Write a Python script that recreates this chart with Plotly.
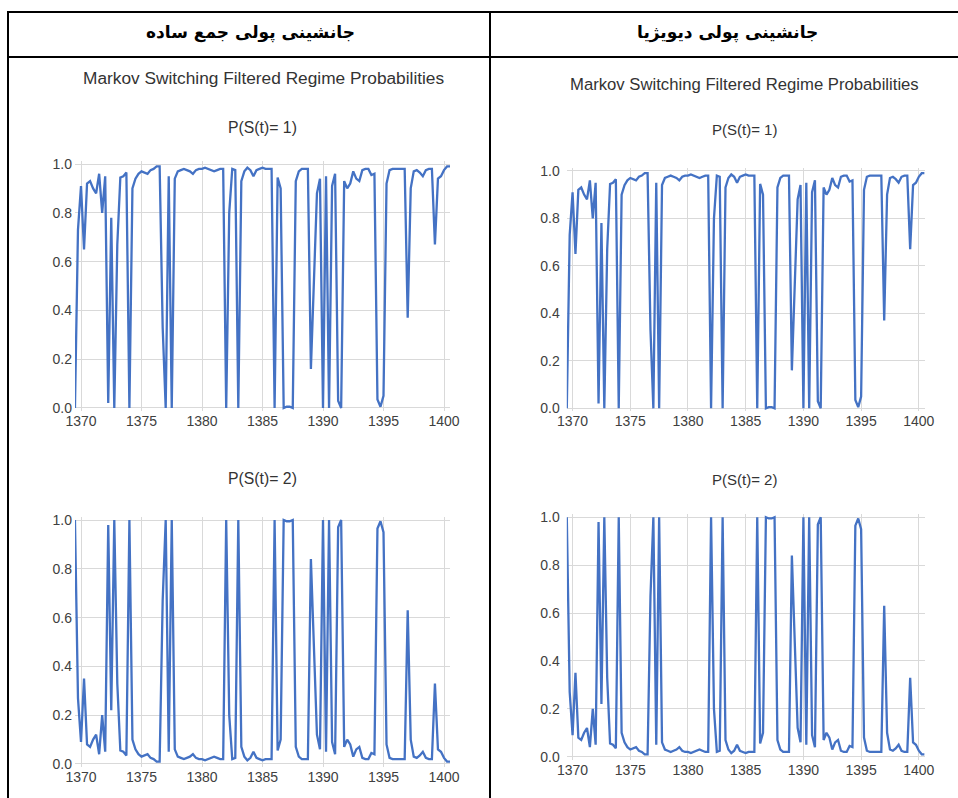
import plotly.graph_objects as go

W, H = 958, 798

# ---- data (quarterly filtered regime probabilities) ----
p1 = [0.00, 0.73, 0.91, 0.65, 0.92, 0.93, 0.90, 0.88, 0.96, 0.80,
      0.95, 0.02, 0.78, 0.00, 0.67, 0.945, 0.95, 0.965, 0.00, 0.90,
      0.94, 0.96, 0.97, 0.965, 0.96, 0.975, 0.98, 0.99, 0.99, 0.33,
      0.00, 0.95, 0.00, 0.94, 0.97, 0.975, 0.98, 0.975, 0.97, 0.96,
      0.975, 0.98, 0.98, 0.985, 0.98, 0.975, 0.97, 0.975, 0.98, 0.98,
      0.00, 0.80, 0.98, 0.975, 0.00, 0.93, 0.97, 0.985, 0.975, 0.95,
      0.975, 0.98, 0.985, 0.98, 0.98, 0.98, 0.00, 0.945, 0.90, 0.00,
      0.005, 0.005, 0.00, 0.93, 0.97, 0.98, 0.98, 0.98, 0.16, 0.55,
      0.88, 0.94, 0.00, 0.95, 0.00, 0.91, 0.96, 0.03, 0.00, 0.93,
      0.90, 0.92, 0.97, 0.94, 0.93, 0.975, 0.98, 0.98, 0.955, 0.96,
      0.035, 0.005, 0.05, 0.92, 0.975, 0.98, 0.98, 0.98, 0.98, 0.98,
      0.37, 0.90, 0.97, 0.975, 0.965, 0.95, 0.975, 0.98, 0.98, 0.67,
      0.94, 0.95, 0.975, 0.99, 0.99]

p2 = [1.00, 0.27, 0.09, 0.35, 0.08, 0.07, 0.10, 0.12, 0.04, 0.20,
      0.05, 0.98, 0.22, 1.00, 0.33, 0.055, 0.05, 0.035, 1.00, 0.10,
      0.06, 0.04, 0.03, 0.035, 0.04, 0.025, 0.02, 0.01, 0.01, 0.67,
      1.00, 0.05, 1.00, 0.06, 0.03, 0.025, 0.02, 0.025, 0.03, 0.04,
      0.025, 0.02, 0.02, 0.015, 0.02, 0.025, 0.03, 0.025, 0.02, 0.02,
      1.00, 0.20, 0.02, 0.025, 1.00, 0.07, 0.03, 0.015, 0.025, 0.05,
      0.025, 0.02, 0.015, 0.02, 0.02, 0.02, 1.00, 0.055, 0.10, 1.00,
      0.995, 0.995, 1.00, 0.07, 0.03, 0.02, 0.02, 0.02, 0.84, 0.45,
      0.12, 0.06, 1.00, 0.05, 1.00, 0.09, 0.04, 0.97, 1.00, 0.07,
      0.10, 0.08, 0.03, 0.06, 0.07, 0.025, 0.02, 0.02, 0.045, 0.04,
      0.965, 0.995, 0.95, 0.08, 0.025, 0.02, 0.02, 0.02, 0.02, 0.02,
      0.63, 0.10, 0.03, 0.025, 0.035, 0.05, 0.025, 0.02, 0.02, 0.33,
      0.06, 0.05, 0.025, 0.01, 0.01]

start_year = 1369.5
dates = [start_year + 0.25 * i for i in range(len(p1))]

x_ticks = [1370, 1375, 1380, 1385, 1390, 1395, 1400]
y_ticks = [0.0, 0.2, 0.4, 0.6, 0.8, 1.0]

headers = ["جانشینی پولی جمع ساده", "جانشینی پولی دیویژیا"]
chart_title = "Markov Switching Filtered Regime Probabilities"
panel_titles = ["P(S(t)= 1)", "P(S(t)= 2)"]

# ---- layout geometry (pixels) ----
LINE = "#4472C4"
GRID = "#d9d9d9"
TXT = "#404040"
X_RANGE = [1369.5, 1400.5]
Y_RANGE = [-0.012, 1.012]

# (series, x_left, x_right, y_top, y_bottom, font size, y-label standoff)
panels = [
    (p1, 74.95, 450.05, 161.1, 410.9, 14, 2),
    (p2, 74.95, 450.05, 517.1, 766.9, 14, 2),
    (p1, 566.8, 924.6, 168.0, 411.2, 14, 6),
    (p2, 566.8, 924.6, 514.4, 759.6, 14, 6),
]

fig = go.Figure()
layout = dict(
    width=W, height=H,
    margin=dict(l=0, r=0, t=0, b=0, pad=0),
    paper_bgcolor="white", plot_bgcolor="white",
    showlegend=False,
    font=dict(family="Liberation Sans, Arial, sans-serif", color=TXT),
)

for k, (series, xl, xr, yt, yb, fs, so) in enumerate(panels, start=1):
    xa = "x" if k == 1 else f"x{k}"
    ya = "y" if k == 1 else f"y{k}"
    fig.add_trace(go.Scatter(x=dates, y=series, mode="lines",
                             line=dict(color=LINE, width=2.3),
                             xaxis=xa, yaxis=ya, hoverinfo="skip"))
    layout["xaxis" if k == 1 else f"xaxis{k}"] = dict(
        domain=[xl / W, xr / W], range=X_RANGE, anchor=ya,
        tickvals=x_ticks, showgrid=True, gridcolor=GRID, gridwidth=1,
        zeroline=False, showline=False, ticks="", automargin=False,
        tickfont=dict(size=fs, color=TXT), fixedrange=True)
    layout["yaxis" if k == 1 else f"yaxis{k}"] = dict(
        domain=[1 - yb / H, 1 - yt / H], range=Y_RANGE, anchor=xa,
        tickvals=y_ticks, tickformat=".1f", showgrid=True, gridcolor=GRID,
        gridwidth=1, zeroline=False, showline=False, ticks="",
        automargin=False, ticklabelstandoff=so,
        tickfont=dict(size=fs, color=TXT), fixedrange=True)

fig.update_layout(**layout)

# ---- table lines ----
def hline(y, x0, x1):
    fig.add_shape(type="line", xref="paper", yref="paper",
                  x0=x0 / W, x1=x1 / W, y0=1 - y / H, y1=1 - y / H,
                  line=dict(color="black", width=2))

def vline(x, y0, y1):
    fig.add_shape(type="line", xref="paper", yref="paper",
                  x0=x / W, x1=x / W, y0=1 - y0 / H, y1=1 - y1 / H,
                  line=dict(color="black", width=2))

hline(12, 7, W)
hline(57, 7, W)
vline(8, 11, H)
vline(490, 11, H)

# ---- texts ----
def text(s, x, y, size, color=TXT, family=None, bold=False):
    f = dict(size=size, color=color)
    if family:
        f["family"] = family
    fig.add_annotation(text=f"<b>{s}</b>" if bold else s,
                       x=x / W, y=1 - y / H, xref="paper", yref="paper",
                       xanchor="center", yanchor="middle", showarrow=False,
                       font=f)

text(headers[0], 250, 33, 17, color="black", family="DejaVu Sans", bold=True)
text(headers[1], 727, 33, 17, color="black", family="DejaVu Sans", bold=True)

text(chart_title, 263, 78, 17.3, color="#333333")
text(chart_title, 744.5, 85, 16.7, color="#333333")
text(panel_titles[0], 262.5, 127, 15.8, color="#333333")
text(panel_titles[0], 744.5, 130, 15, color="#333333")
text(panel_titles[1], 262.5, 478, 15.8, color="#333333")
text(panel_titles[1], 744.5, 479, 15, color="#333333")

fig.write_html(
    "out.html",
    config={"displayModeBar": False},
    post_script="document.body.style.margin='0px';document.body.style.overflow='hidden';",
)
